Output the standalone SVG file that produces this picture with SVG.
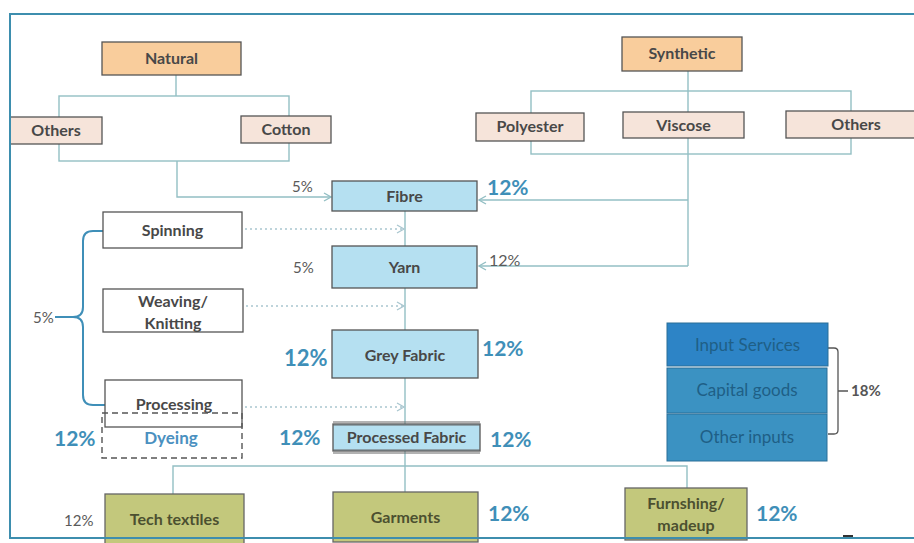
<svg xmlns="http://www.w3.org/2000/svg" width="914" height="543" viewBox="0 0 914 543">
<defs>
<style>
text{font-family:Lato,"Open Sans","Liberation Sans",sans-serif;font-weight:700;}
.lbl{font-size:16px;fill:#484848;text-anchor:middle;}
.nat{fill:#f9cd9c;stroke:#555;stroke-width:1.3;}
.sub{fill:#f6e4da;stroke:#555;stroke-width:1.3;}
.blue{fill:#b5e0f1;stroke:#555;stroke-width:1.3;}
.wht{fill:#fff;stroke:#555;stroke-width:1.3;}
.grn{fill:#c3c87c;stroke:#666;stroke-width:1.3;}
.inp{stroke:#2a6f98;stroke-width:1;}
.conn{fill:none;stroke:#93bfc4;stroke-width:1.4;}
.dot{fill:none;stroke:#a9c6cf;stroke-width:1.3;stroke-dasharray:2,3;}
.pb{fill:#3f8fb8;font-size:21px;}
.pg{fill:#5a5a5a;font-size:15px;font-weight:400;}
.it{font-size:17px;fill:#1f5f86;text-anchor:middle;font-weight:400;}
.gt{fill:#4c5030;}
</style>
<marker id="ah" markerWidth="10" markerHeight="10" refX="8" refY="5" orient="auto" markerUnits="userSpaceOnUse">
<path d="M1,1 L8,5 L1,9" fill="none" stroke="#93bfc4" stroke-width="1.4"/>
</marker>
<marker id="ahd" markerWidth="10" markerHeight="10" refX="8" refY="5" orient="auto" markerUnits="userSpaceOnUse">
<path d="M1,1 L8,5 L1,9" fill="none" stroke="#a9c6cf" stroke-width="1.3"/>
</marker>
</defs>
<rect x="0" y="0" width="914" height="543" fill="#fff"/>

<g id="connectors">
<path class="conn" d="M176,75 V96"/>
<rect class="conn" x="59" y="96" width="230" height="65"/>
<path class="conn" d="M177,161 V197 H331" marker-end="url(#ah)"/>
<path class="conn" d="M688,71 V266"/>
<rect class="conn" x="531" y="91" width="320" height="63"/>
<path class="conn" d="M688,200 H479" marker-end="url(#ah)"/>
<path class="conn" d="M688,266 H479" marker-end="url(#ah)"/>
<path class="conn" d="M405,211 V466"/>
<path class="conn" d="M173,494 V466 H687 V488"/>
<path class="conn" d="M405,466 V492"/>
<path class="dot" d="M245,229 H404" marker-end="url(#ahd)"/>
<path class="dot" d="M246,306 H404" marker-end="url(#ahd)"/>
<path class="dot" d="M245,407 H404" marker-end="url(#ahd)"/>
<path d="M110,231 H93 Q83,231 83,241 V307 Q83,317 73,317 H55 M73,317 Q83,317 83,327 V395 Q83,405 93,405 H112" fill="none" stroke="#3f8fb8" stroke-width="2"/>
<path d="M828,348 H834 Q838,348 838,352 V430 Q838,434 834,434 H828 M838,391 H848" fill="none" stroke="#555" stroke-width="1.3"/>
<path d="M843,536 H853" stroke="#333" stroke-width="2"/>
</g>

<g id="natural"><rect class="nat" x="102" y="42" width="139" height="33"/><text class="lbl" x="171.5" y="64">Natural</text></g>
<g id="others-nat"><rect class="sub" x="10" y="117" width="92" height="27"/><text class="lbl" x="56" y="136">Others</text></g>
<g id="cotton"><rect class="sub" x="241" y="116" width="90" height="27"/><text class="lbl" x="286" y="135">Cotton</text></g>

<g id="synthetic"><rect class="nat" x="622" y="37" width="120" height="34"/><text class="lbl" x="682" y="59">Synthetic</text></g>
<g id="polyester"><rect class="sub" x="476" y="113" width="108" height="28"/><text class="lbl" x="530" y="132">Polyester</text></g>
<g id="viscose"><rect class="sub" x="623" y="112" width="121" height="26"/><text class="lbl" x="683.5" y="131">Viscose</text></g>
<g id="others-syn"><rect class="sub" x="786" y="111" width="130" height="27"/><text class="lbl" x="856" y="130">Others</text></g>

<g id="fibre"><rect class="blue" x="332" y="181" width="145" height="30"/><text class="lbl" x="404.5" y="202">Fibre</text></g>
<g id="yarn"><rect class="blue" x="332" y="246" width="145" height="42"/><text class="lbl" x="404.5" y="273">Yarn</text></g>
<g id="grey-fabric"><rect class="blue" x="332" y="330" width="146" height="48"/><text class="lbl" x="405" y="361">Grey Fabric</text></g>
<g id="processed-fabric"><rect class="blue" x="333" y="424" width="147" height="27" stroke="none"/><path d="M333,422 H480 M333,425 H480 M333,450 H480 M333,453 H480" stroke="#666" stroke-width="1"/><text class="lbl" x="406.5" y="443">Processed Fabric</text></g>

<g id="spinning"><rect class="wht" x="103" y="212" width="139" height="36"/><text class="lbl" x="172.5" y="236">Spinning</text></g>
<g id="weaving"><rect class="wht" x="103" y="289" width="140" height="43"/><text class="lbl" x="173" y="307">Weaving/</text><text class="lbl" x="173" y="329">Knitting</text></g>
<g id="processing"><rect class="wht" x="105" y="380" width="137" height="47"/><text class="lbl" x="174" y="410">Processing</text></g>
<g id="dyeing"><rect x="102" y="413" width="140" height="45" fill="none" stroke="#555" stroke-width="1.4" stroke-dasharray="6,4"/><text x="171" y="444" font-size="17" fill="#4a90c0" text-anchor="middle" font-weight="400">Dyeing</text></g>

<g id="inputs">
<rect class="inp" x="667" y="323" width="161" height="43" fill="#2d84c6"/><text class="it" x="747.5" y="351">Input Services</text>
<rect class="inp" x="667" y="368" width="160" height="45" fill="#3b92c2"/><text class="it" x="747" y="396">Capital goods</text>
<rect class="inp" x="667" y="414" width="160" height="47" fill="#3b92c2"/><text class="it" x="747" y="443">Other inputs</text>
</g>

<g id="tech-textiles"><rect class="grn" x="105" y="494" width="139" height="50"/><text class="lbl gt" x="174.5" y="525">Tech textiles</text></g>
<g id="garments"><rect class="grn" x="333" y="492" width="145" height="50"/><text class="lbl gt" x="405.5" y="523">Garments</text></g>
<g id="furnishing"><rect class="grn" x="625" y="488" width="122" height="52"/><text class="lbl gt" x="686" y="509">Furnshing/</text><text class="lbl gt" x="686" y="531">madeup</text></g>

<g id="percent-labels">
<text class="pg" x="292" y="192">5%</text>
<text class="pb" x="487" y="195">12%</text>
<text class="pg" x="293" y="273">5%</text>
<text class="pg" x="489" y="266" style="font-size:16px">12%</text>
<text class="pb" x="284" y="366" style="font-size:22px">12%</text>
<text class="pb" x="482" y="356">12%</text>
<text class="pb" x="279" y="445">12%</text>
<text class="pb" x="490" y="447">12%</text>
<text class="pb" x="54" y="446">12%</text>
<text class="pg" x="33" y="323">5%</text>
<text class="pg" x="64" y="526">12%</text>
<text class="pb" x="488" y="521">12%</text>
<text class="pb" x="756" y="521">12%</text>
<text class="pg" x="851" y="396" style="font-weight:700;fill:#555">18%</text>
</g>
<rect id="frame" x="10" y="14" width="912" height="524" fill="none" stroke="#3d8eae" stroke-width="2"/>
</svg>
